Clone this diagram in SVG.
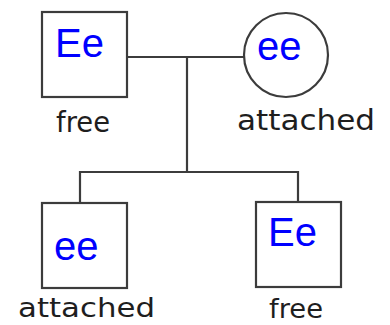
<svg xmlns="http://www.w3.org/2000/svg" width="390" height="325" viewBox="0 0 390 325">
  <style>
    .shape { fill: #fff; stroke: #3c3c3c; stroke-width: 2.2; }
    .line { fill: none; stroke: #3c3c3c; stroke-width: 2.2; }
    .geno { font-family: "Liberation Sans", Arial, sans-serif; font-size: 40px; fill: #0000ff; }
    .lbl { font-family: "DejaVu Sans", sans-serif; font-size: 28px; fill: #1e1e1e; }
    .lbl.low { font-size: 26px; }
  </style>
  <rect width="390" height="325" fill="#fff"/>
  <g id="connectors">
    <polyline class="line" points="127,57 245,57"/>
    <polyline class="line" points="187,57 187,172"/>
    <polyline class="line" points="80,203 80,172 298,172 298,202"/>
  </g>
  <g id="father">
    <rect class="shape" x="42" y="12" width="85" height="85"/>
    <text class="geno" x="55" y="57">Ee</text>
    <text class="lbl" x="56" y="132" textLength="54" lengthAdjust="spacingAndGlyphs">free</text>
  </g>
  <g id="mother">
    <circle class="shape" cx="286" cy="55" r="42"/>
    <text class="geno" x="257" y="60">ee</text>
    <text class="lbl" x="237" y="130" textLength="138" lengthAdjust="spacingAndGlyphs">attached</text>
  </g>
  <g id="child1">
    <rect class="shape" x="42" y="203" width="85" height="85"/>
    <text class="geno" x="54" y="260">ee</text>
    <text class="lbl low" x="18" y="317" textLength="137" lengthAdjust="spacingAndGlyphs">attached</text>
  </g>
  <g id="child2">
    <rect class="shape" x="256" y="202" width="85" height="85"/>
    <text class="geno" x="268" y="246">Ee</text>
    <text class="lbl low" x="269" y="318" textLength="54" lengthAdjust="spacingAndGlyphs">free</text>
  </g>
</svg>
